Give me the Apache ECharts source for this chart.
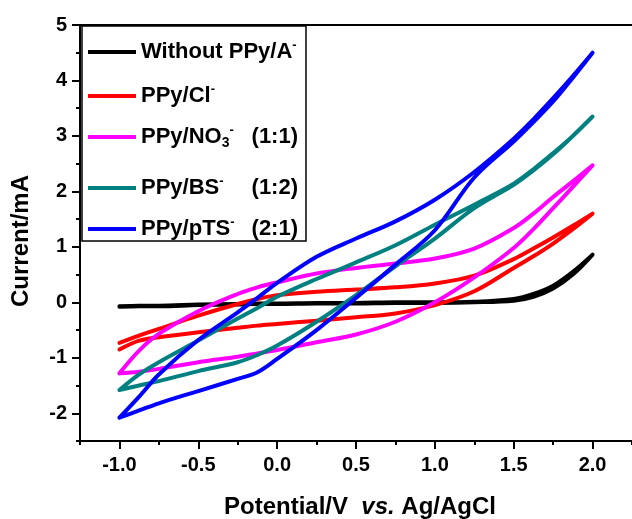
<!DOCTYPE html>
<html>
<head>
<meta charset="utf-8">
<script src="https://cdn.jsdelivr.net/npm/echarts@6/dist/echarts.min.js"></script>
<style>html,body{margin:0;padding:0;background:#fff}#c{width:632px;height:519px}</style>
</head>
<body>
<div id="c"></div>
<script>
// Potential grid (V vs Ag/AgCl) used for both scan directions
const potential = [-1, -0.875, -0.75, -0.5, -0.25, -0.125, 0, 0.25, 0.5, 0.75, 1.0, 1.25, 1.5, 1.625, 1.75, 1.875, 2.0];

// Current (mA), forward (anodic) scan and reverse scan at each potential
const blackFwd   = [-0.07, -0.06, -0.06, -0.04, -0.03, -0.02, -0.02, -0.01, -0.01, 0.0, 0.0, 0.01, 0.06, 0.15, 0.3, 0.55, 0.86];
const blackRev   = [-0.08, -0.07, -0.07, -0.05, -0.04, -0.03, -0.03, -0.02, -0.02, -0.01, -0.01, 0.0, 0.03, 0.1, 0.25, 0.5, 0.86];
const redFwd     = [-0.73, -0.6, -0.48, -0.24, -0.03, 0.06, 0.13, 0.19, 0.23, 0.27, 0.34, 0.48, 0.78, 0.97, 1.17, 1.38, 1.6];
const redRev     = [-0.85, -0.69, -0.63, -0.54, -0.46, -0.42, -0.39, -0.33, -0.27, -0.2, -0.05, 0.2, 0.62, 0.83, 1.06, 1.32, 1.6];
const magentaFwd = [-1.28, -0.87, -0.57, -0.16, 0.15, 0.27, 0.36, 0.52, 0.62, 0.7, 0.79, 0.97, 1.34, 1.6, 1.9, 2.18, 2.47];
const magentaRev = [-1.28, -1.25, -1.2, -1.08, -0.98, -0.92, -0.86, -0.72, -0.58, -0.35, 0.0, 0.45, 0.98, 1.32, 1.7, 2.08, 2.47];
const tealFwd    = [-1.58, -1.3, -1.08, -0.69, -0.29, -0.1, 0.1, 0.42, 0.72, 1.03, 1.4, 1.76, 2.14, 2.4, 2.69, 3.0, 3.35];
const tealRev    = [-1.58, -1.5, -1.42, -1.24, -1.08, -0.95, -0.78, -0.35, 0.13, 0.65, 1.15, 1.7, 2.12, 2.38, 2.67, 3.0, 3.35];
const blueFwd    = [-2.08, -1.7, -1.3, -0.68, -0.18, 0.08, 0.35, 0.82, 1.15, 1.46, 1.85, 2.35, 2.95, 3.3, 3.68, 4.08, 4.5];
const blueRev    = [-2.08, -1.95, -1.82, -1.6, -1.38, -1.26, -1.02, -0.5, 0.08, 0.68, 1.3, 2.25, 2.9, 3.25, 3.62, 4.05, 4.5];

const seriesNames = ['Without PPy/A-', 'PPy/Cl-', 'PPy/NO3-', 'PPy/BS-', 'PPy/pTS-'];
const seriesColors = ['#000000', '#ff0000', '#ff00ff', '#008080', '#0000ff'];
const ratioLabels = ['', '', '(1:1)', '(1:2)', '(2:1)'];
const xMajorTicks = [-1.0, -0.5, 0.0, 0.5, 1.0, 1.5, 2.0];
const xMinorTicks = [-1.25, -0.75, -0.25, 0.25, 0.75, 1.25, 1.75, 2.25];
const yMajorTicks = [-2, -1, 0, 1, 2, 3, 4, 5];
const yMinorTicks = [-2.5, -1.5, -0.5, 0.5, 1.5, 2.5, 3.5, 4.5];

function loop(fwd, rev) {
  const pts = [];
  for (let i = 0; i < potential.length; i++) pts.push([potential[i], fwd[i]]);
  for (let i = potential.length - 2; i >= 0; i--) pts.push([potential[i], rev[i]]);
  return pts;
}
const loops = [loop(blackFwd, blackRev), loop(redFwd, redRev), loop(magentaFwd, magentaRev), loop(tealFwd, tealRev), loop(blueFwd, blueRev)];

const FONT = '"Liberation Sans", Arial, Helvetica, sans-serif';
const legendRich = {
  sup: { fontSize: 13, fontWeight: 'bold', fontFamily: FONT, color: '#000', verticalAlign: 'top', lineHeight: 13 },
  sub: { fontSize: 14, fontWeight: 'bold', fontFamily: FONT, color: '#000', verticalAlign: 'bottom', lineHeight: 14 }
};
const legendLabel = {
  'Without PPy/A-': 'Without PPy/A{sup|-}',
  'PPy/Cl-': 'PPy/Cl{sup|-}',
  'PPy/NO3-': 'PPy/NO{sub|3}{sup|-}',
  'PPy/BS-': 'PPy/BS{sup|-}',
  'PPy/pTS-': 'PPy/pTS{sup|-}'
};
const legendCenters = [52, 96, 137, 188, 229];

const chart = echarts.init(document.getElementById('c'), null, { renderer: 'canvas' });
const option = {
  animation: false,
  backgroundColor: '#fff',
  grid: { left: 80, top: 25, width: 560, height: 416, containLabel: false },
  xAxis: [
    {
      type: 'value', min: -1.25, max: 2.25, position: 'bottom',
      axisLine: { show: true, onZero: false, lineStyle: { color: '#000', width: 2 } },
      axisTick: { show: true, inside: false, length: 8, customValues: xMajorTicks, lineStyle: { color: '#000', width: 2 } },
      axisLabel: { customValues: xMajorTicks, margin: 14, color: '#000', fontSize: 20, fontWeight: 'bold', fontFamily: FONT,
                   formatter: v => v.toFixed(1) },
      splitLine: { show: false }
    },
    {
      type: 'value', min: -1.25, max: 2.25, position: 'bottom',
      axisLine: { show: false, onZero: false },
      axisTick: { show: true, inside: false, length: 4, customValues: xMinorTicks, lineStyle: { color: '#000', width: 2 } },
      axisLabel: { show: false },
      splitLine: { show: false }
    },
    {
      type: 'value', min: -1.25, max: 2.25, position: 'top',
      axisLine: { show: true, onZero: false, lineStyle: { color: '#000', width: 2 } },
      axisTick: { show: false }, axisLabel: { show: false }, splitLine: { show: false }
    }
  ],
  yAxis: [
    {
      type: 'value', min: -2.5, max: 5, position: 'left',
      axisLine: { show: true, onZero: false, lineStyle: { color: '#000', width: 2 } },
      axisTick: { show: true, inside: false, length: 8, customValues: yMajorTicks, lineStyle: { color: '#000', width: 2 } },
      axisLabel: { customValues: yMajorTicks, margin: 13, color: '#000', fontSize: 20, fontWeight: 'bold', fontFamily: FONT },
      splitLine: { show: false }
    },
    {
      type: 'value', min: -2.5, max: 5, position: 'left',
      axisLine: { show: false, onZero: false },
      axisTick: { show: true, inside: false, length: 4, customValues: yMinorTicks, lineStyle: { color: '#000', width: 2 } },
      axisLabel: { show: false },
      splitLine: { show: false }
    }
  ],
  legend: seriesNames.map((n, i) => ({
    data: [n], left: 88, top: legendCenters[i] - 13, orient: 'vertical',
    icon: 'rect', itemWidth: 48, itemHeight: 4, itemGap: 0, padding: 0,
    formatter: name => legendLabel[name],
    textStyle: { fontSize: 22, fontWeight: 'bold', fontFamily: FONT, color: '#000', lineHeight: 26, rich: legendRich }
  })),
  graphic: [
    { type: 'rect', z: 100, shape: { x: 82, y: 26, width: 224, height: 215 },
      style: { fill: 'none', stroke: '#000', lineWidth: 1.5 } },
    ...[2, 3, 4].map(i => ({
      type: 'text', z: 100, x: 298, y: legendCenters[i],
      style: { text: ratioLabels[i], font: 'bold 22px ' + FONT, fill: '#000', align: 'right', verticalAlign: 'middle' }
    })),
    { type: 'text', z: 100, x: 21, y: 241, rotation: Math.PI / 2,
      style: { text: 'Current/mA', font: 'bold 24px ' + FONT, fill: '#000', align: 'center', verticalAlign: 'middle' } },
    { type: 'text', z: 100, x: 360, y: 507,
      style: { text: 'Potential/V  {i|vs.} Ag/AgCl', font: 'bold 24px ' + FONT, fill: '#000', align: 'center', verticalAlign: 'middle',
               rich: { i: { fontStyle: 'italic', fontWeight: 'bold', fontSize: 24, fontFamily: FONT, fill: '#000' } } } }
  ],
  series: loops.map((d, i) => ({
    name: seriesNames[i], type: 'line', xAxisIndex: 0, yAxisIndex: 0,
    data: d, smooth: 0.35, showSymbol: false, symbol: 'none',
    lineStyle: { color: seriesColors[i], width: 4, cap: 'round', join: 'round' },
    itemStyle: { color: seriesColors[i] }
  }))
};
chart.setOption(option);
</script>
</body>
</html>
